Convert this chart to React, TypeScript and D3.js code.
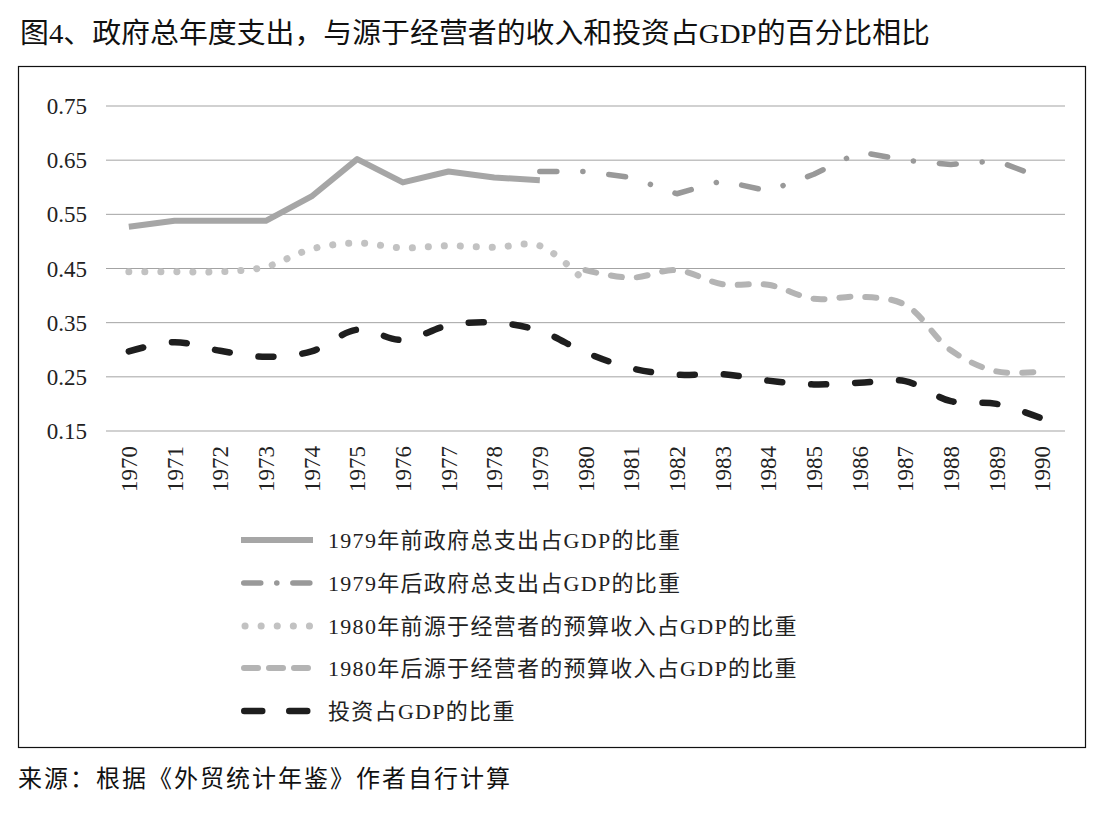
import * as d3 from "d3";
import React from "react";

const years = d3.range(1970, 1991).map(String);
const yTicks = [0.15, 0.25, 0.35, 0.45, 0.55, 0.65, 0.75];

// 1979年前 / 后 政府总支出
const govBefore = [0.527, 0.538, 0.538, 0.538, 0.583, 0.652, 0.609, 0.629, 0.618, 0.613];
const govAfter = [0.629, 0.629, 0.618, 0.588, 0.612, 0.593, 0.624, 0.665, 0.65, 0.642, 0.649, 0.617];
// 源于经营者的预算收入
const opBefore = [0.444, 0.444, 0.444, 0.453, 0.486, 0.497, 0.488, 0.492, 0.489, 0.492, 0.425];
const opAfter = [0.447, 0.433, 0.447, 0.421, 0.42, 0.394, 0.398, 0.383, 0.299, 0.26, 0.26];
// 投资
const invest = [0.297, 0.314, 0.298, 0.287, 0.297, 0.337, 0.318, 0.345, 0.35, 0.335, 0.295,
  0.266, 0.254, 0.255, 0.243, 0.236, 0.239, 0.242, 0.205, 0.2, 0.173];

const seriesList = [
  { name: "1979年前政府总支出占GDP的比重", start: 1970, values: govBefore, color: "#a6a6a6", width: 6, dash: null, legendDash: null, smooth: false },
  { name: "1979年后政府总支出占GDP的比重", start: 1979, values: govAfter, color: "#999999", width: 5.5, dash: "17,26,0.1,26", legendDash: "17,16,0.1,16", smooth: false },
  { name: "1980年前源于经营者的预算收入占GDP的比重", start: 1970, values: opBefore, color: "#c2c2c2", width: 7, dash: "0.1,15.9", legendDash: "0.1,16", smooth: true },
  { name: "1980年后源于经营者的预算收入占GDP的比重", start: 1980, values: opAfter, color: "#b4b4b4", width: 6, dash: "11,15", legendDash: "14,11", smooth: true },
  { name: "投资占GDP的比重", start: 1970, values: invest, color: "#1e1e1e", width: 6.5, dash: "15,29", legendDash: "18,27", smooth: true },
];

const FONT = "'Liberation Serif', 'Noto Sans CJK SC', serif";

export default function App() {
  const W = 1103, H = 816;
  const x = d3.scaleBand().domain(years).range([106, 1065]);
  const cx = (yr: number) => (x(String(yr)) as number) + x.bandwidth() / 2;
  const y = d3.scaleLinear().domain([0.15, 0.75]).range([431, 106]);

  const legendY = [540, 583, 626, 668, 711];

  return (
    <svg width={W} height={H} style={{ position: "absolute", left: 0, top: 0, background: "#fff" }}>
      <text x={20} y={43} fontFamily={FONT} fontSize={28} textLength={910} lengthAdjust="spacingAndGlyphs" fill="#111">
        图4、政府总年度支出，与源于经营者的收入和投资占GDP的百分比相比
      </text>
      <rect x={18.5} y={66.5} width={1067} height={681} fill="none" stroke="#111" strokeWidth={1.2} />

      {yTicks.map((t) => (
        <g key={t}>
          <line x1={106} x2={1065} y1={y(t)} y2={y(t)} stroke="#a3a3a3" strokeWidth={1} />
          <text x={87} y={y(t)} dy="0.35em" textAnchor="end" fontFamily={FONT} fontSize={23} fill="#222">
            {t.toFixed(2)}
          </text>
        </g>
      ))}

      {years.map((yr) => (
        <text key={yr} transform={`translate(${cx(+yr)},446) rotate(-90)`} dy="0.35em" textAnchor="end"
          fontFamily={FONT} fontSize={23} fill="#222">
          {yr}
        </text>
      ))}

      {seriesList.map((s) => {
        const line = d3.line<number>()
          .x((_, i) => cx(s.start + i))
          .y((v) => y(v))
          .curve(s.smooth ? d3.curveCatmullRom.alpha(0.5) : d3.curveLinear);
        return (
          <path key={s.name} d={line(s.values) || ""} fill="none" stroke={s.color} strokeWidth={s.width}
            strokeDasharray={s.dash || undefined} strokeLinecap={s.dash ? "round" : "butt"} strokeLinejoin="round" />
        );
      })}

      {seriesList.map((s, i) => {
        const ly = legendY[i];
        const pad = s.dash ? s.width / 2 : 0;
        const x1 = s.legendDash === "0.1,16" ? 245 : 241 + pad;
        const x2 = s.legendDash === "0.1,16" ? 310 : 313 - pad;
        return (
          <g key={"lg" + s.name}>
            <line x1={x1} x2={x2} y1={ly} y2={ly} stroke={s.color} strokeWidth={s.width}
              strokeDasharray={s.legendDash || undefined} strokeLinecap={s.dash ? "round" : "butt"} />
            <text x={328} y={ly} dy="0.35em" fontFamily={FONT} fontSize={22} letterSpacing={1.3} fill="#222">{s.name}</text>
          </g>
        );
      })}

      <text x={18} y={787} fontFamily={FONT} fontSize={24} textLength={492} lengthAdjust="spacing" fill="#111">
        来源：根据《外贸统计年鉴》作者自行计算
      </text>
    </svg>
  );
}
